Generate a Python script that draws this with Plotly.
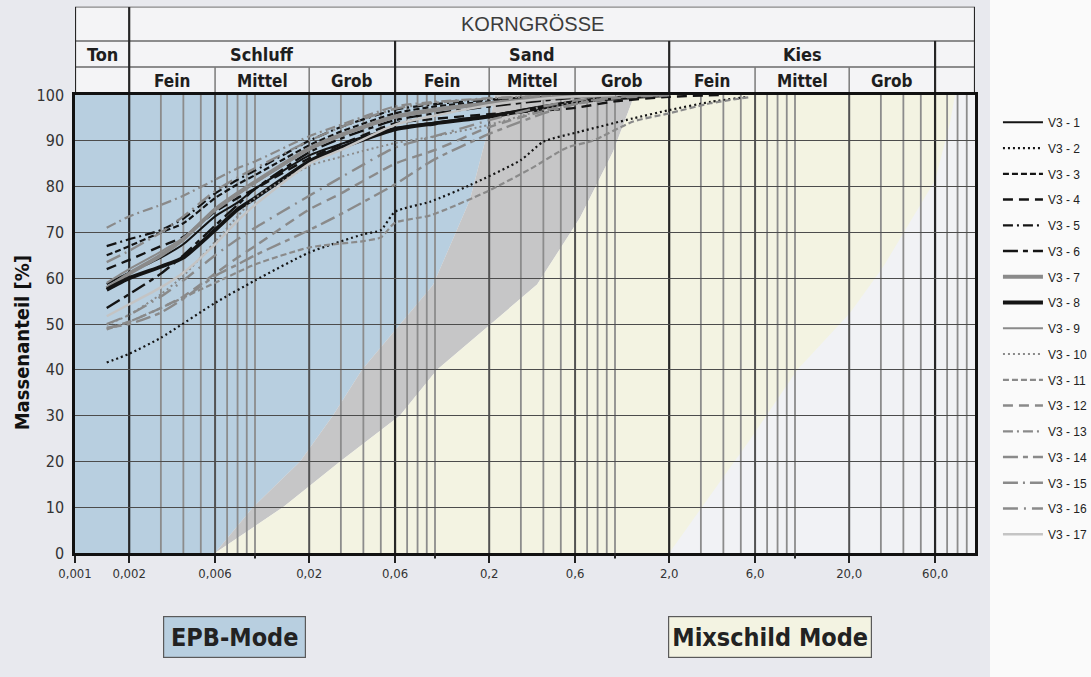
import numpy as np
import plotly.graph_objects as go

# ---------------------------------------------------------------------------
# Grain size distribution (Sieblinien) of samples V3-1 ... V3-17
# x: grain diameter [mm], y: passing mass fraction [%]
# ---------------------------------------------------------------------------
GRAIN_MM = [0.0015, 0.002, 0.003, 0.004, 0.006, 0.008, 0.01, 0.02, 0.03,
            0.06, 0.1, 0.2, 0.4, 0.6, 1.0, 2.0]

V3_1 = [58.7, 61.2, 64.5, 67.4, 73.5, 76.5, 79.5, 86.8, 89.3, 92.8, 94.0, 95.5, 97.6, 98.6, 99.4, 100.0]
V3_2_MM = [0.0015, 0.002, 0.003, 0.006, 0.01, 0.02, 0.04, 0.05, 0.06, 0.094, 0.156, 0.3, 0.4, 0.64, 1.26, 2.0, 3.4, 5.5]
V3_2 = [41.6, 43.5, 47.0, 54.6, 59.5, 65.6, 69.6, 70.5, 74.5, 76.7, 80.3, 85.8, 89.8, 92.0, 94.9, 96.7, 98.5, 99.6]
V3_3 = [65.0, 67.0, 70.0, 72.0, 77.5, 80.5, 82.5, 89.0, 92.0, 96.0, 97.5, 98.6, 99.4, 99.7, 100.0]
V3_4_MM = GRAIN_MM + [4.0]
V3_4 = [62.0, 64.0, 67.0, 69.0, 74.5, 77.5, 79.5, 86.2, 89.2, 93.8, 94.8, 95.8, 96.6, 97.2, 98.6, 99.6, 100.0]
V3_5 = [67.0, 68.5, 70.5, 73.0, 78.5, 81.5, 83.5, 90.0, 93.0, 96.8, 98.0, 99.0, 99.6, 100.0]
V3_6 = [53.5, 56.5, 61.0, 65.0, 71.5, 76.0, 79.5, 87.5, 90.5, 94.5, 96.0, 97.5, 98.8, 99.4, 100.0]
V3_7 = [57.8, 61.0, 65.0, 68.5, 75.0, 78.5, 81.0, 88.3, 91.3, 95.3, 96.8, 98.2, 99.3, 99.7, 100.0]
V3_8 = [57.5, 60.0, 62.5, 64.5, 70.5, 75.0, 77.5, 85.5, 88.5, 92.5, 93.8, 95.3, 97.3, 98.5, 99.3, 100.0]
V3_9 = [59.0, 62.0, 65.8, 68.8, 74.8, 78.2, 80.8, 88.0, 91.0, 95.0, 96.5, 98.0, 99.2, 99.6, 100.0]
V3_10 = [49.8, 52.0, 56.5, 60.5, 68.0, 73.5, 77.5, 84.5, 86.5, 89.5, 91.0, 93.5, 96.8, 98.4, 99.4, 100.0]
V3_11_MM = [0.0015, 0.002, 0.003, 0.006, 0.01, 0.02, 0.04, 0.05, 0.06, 0.094, 0.194, 0.34, 0.54, 0.75, 1.26, 2.0, 3.4, 5.5]
V3_11 = [48.8, 50.5, 53.5, 59.0, 63.0, 66.7, 68.1, 68.9, 72.1, 73.7, 78.9, 83.9, 88.5, 90.0, 94.2, 96.0, 98.2, 99.5]
V3_12 = [49.0, 50.5, 53.5, 56.0, 61.0, 64.5, 67.0, 75.0, 78.5, 85.0, 88.0, 93.0, 96.5, 98.0, 99.3, 100.0]
V3_13 = [71.0, 73.5, 76.0, 78.0, 81.5, 84.0, 85.5, 91.0, 93.5, 97.5, 98.5, 99.3, 99.8, 100.0]
V3_14 = [49.2, 50.0, 52.5, 55.5, 60.5, 63.0, 65.0, 70.5, 74.0, 80.5, 86.0, 91.5, 96.0, 98.0, 99.5, 100.0]
V3_15 = [63.5, 66.0, 70.0, 73.5, 79.0, 82.0, 84.0, 90.0, 93.0, 97.0, 98.3, 99.2, 99.8, 100.0]
V3_16 = [50.0, 52.0, 56.0, 59.5, 65.0, 68.5, 71.0, 78.0, 82.0, 88.5, 91.0, 94.5, 97.5, 98.8, 99.7, 100.0]
V3_17 = [51.7, 54.3, 58.0, 61.2, 67.4, 72.5, 76.0, 85.0, 88.0, 93.5, 95.5, 97.8, 99.2, 99.7, 100.0]

SERIES_NAMES = [f"V3 - {i}" for i in range(1, 18)]

# Application ranges of the TBM modes (boundary lines, [mm] / [%])
EPB_EDGE_MM = [0.006, 0.00975, 0.0178, 0.0271, 0.0393, 0.0975, 0.156, 0.202, 0.215]
EPB_EDGE_PCT = [0, 10, 20, 30, 40, 58.5, 77, 94, 100]
TRANS_EDGE_MM = [0.006, 0.0143, 0.0297, 0.0639, 0.1026, 0.369, 0.639, 0.975, 1.243, 1.29]
TRANS_EDGE_PCT = [0, 10, 20, 30, 40, 58.6, 73.2, 87.6, 98.5, 100]
MIX_EDGE_MM = [2.0, 5.62, 10.3, 20.2, 30.8, 60.0, 72.6, 77.5]
MIX_EDGE_PCT = [0, 24.7, 40, 52.4, 62.4, 81.4, 93.9, 100]

# Axis labelling and soil classes (DIN 4022)
TICK_MM = [0.001, 0.002, 0.006, 0.02, 0.06, 0.2, 0.6, 2.0, 6.0, 20.0, 60.0]
TICK_TEXT = ["0,001", "0,002", "0,006", "0,02", "0,06", "0,2", "0,6", "2,0", "6,0", "20,0", "60,0"]
DECADE_MM = [0.01, 0.1, 1.0, 10.0]
CLASS_NAMES = ["Ton", "Schluff", "Sand", "Kies"]
CLASS_EDGES = [0.001, 0.002, 0.06, 2.0, 60.0]
SUBCLASS_NAMES = ["Fein", "Mittel", "Grob"]
SUBCLASS_EDGES = [0.002, 0.006, 0.02, 0.06, 0.2, 0.6, 2.0, 6.0, 20.0, 60.0]

X_MIN, X_MAX = 0.001, 100.0

# ---------------------------------------------------------------------------
NARROW = "Liberation Sans Narrow, Arial Narrow, DejaVu Sans Condensed, sans-serif"
SANS = "Liberation Sans, Arial, Helvetica, sans-serif"
BLUE = "#b8cfe0"
GREY_BAND = "#c6c6c7"
CREAM = "#f3f3e2"
PLOT_BG = "#f1f2f5"

BLACK = "#141414"
GREY = "#8a8a8a"
LIGHT = "#c4c4c4"

styles = [
    (BLACK, 2.0, "solid"),
    (BLACK, 2.2, "2px,3px"),
    (BLACK, 2.2, "6px,3px"),
    (BLACK, 2.4, "10px,6px"),
    (BLACK, 2.2, "10px,4px,2px,4px"),
    (BLACK, 2.4, "15px,5px,5px,5px"),
    (GREY, 4.0, "solid"),
    (BLACK, 4.0, "solid"),
    (GREY, 2.0, "solid"),
    (GREY, 2.0, "2px,3px"),
    (GREY, 2.2, "6px,3px"),
    (GREY, 2.4, "10px,6px"),
    (GREY, 2.2, "10px,4px,2px,4px"),
    (GREY, 2.4, "15px,5px,5px,5px"),
    (GREY, 2.4, "15px,5px,2px,5px"),
    (GREY, 2.4, "15px,6px,2px,6px"),
    (LIGHT, 2.4, "solid"),
]

series_x = [GRAIN_MM, V3_2_MM, GRAIN_MM, V3_4_MM, GRAIN_MM, GRAIN_MM, GRAIN_MM, GRAIN_MM,
            GRAIN_MM, GRAIN_MM, V3_11_MM, GRAIN_MM, GRAIN_MM, GRAIN_MM, GRAIN_MM, GRAIN_MM, GRAIN_MM]
series_y = [V3_1, V3_2, V3_3, V3_4, V3_5, V3_6, V3_7, V3_8, V3_9, V3_10,
            V3_11, V3_12, V3_13, V3_14, V3_15, V3_16, V3_17]

fig = go.Figure()

for name, xs, ys, (col, w, dash) in zip(SERIES_NAMES, series_x, series_y, styles):
    fig.add_trace(go.Scatter(
        x=xs[:len(ys)], y=ys, name=name, mode="lines",
        line=dict(color=col, width=w, dash=dash, shape="spline", smoothing=0.6),
        legendgroup=name, hoverinfo="skip",
    ))


def poly_path(pts):
    return "M " + " L ".join(f"{x},{y}" for x, y in pts) + " Z"


epb = list(zip(EPB_EDGE_MM, EPB_EDGE_PCT))
trans = list(zip(TRANS_EDGE_MM, TRANS_EDGE_PCT))
mix = list(zip(MIX_EDGE_MM, MIX_EDGE_PCT))

shapes = []
# light panel behind the legend
shapes.append(dict(type="rect", xref="paper", yref="paper", layer="below",
                   x0=1.0167, x1=1.14, y0=-0.3, y1=1.25,
                   fillcolor="#fafafa", line=dict(width=0)))
# mode areas
shapes.append(dict(type="path", xref="x", yref="y", layer="below", line=dict(width=0),
                   fillcolor=BLUE,
                   path=poly_path([(X_MIN, 0)] + epb + [(X_MIN, 100)])))
shapes.append(dict(type="path", xref="x", yref="y", layer="below", line=dict(width=0),
                   fillcolor=GREY_BAND,
                   path=poly_path(trans + epb[::-1])))
shapes.append(dict(type="path", xref="x", yref="y", layer="below", line=dict(width=0),
                   fillcolor=CREAM,
                   path=poly_path([trans[0]] + mix + trans[::-1])))

# vertical grid of the log paper
major = set(round(v, 6) for v in CLASS_EDGES[1:])
sub = set(round(v, 6) for v in SUBCLASS_EDGES) - major
for n in range(-3, 2):
    for k in range(1, 10):
        v = k * 10.0 ** n
        r = round(v, 6)
        if r <= X_MIN or r >= X_MAX:
            continue
        if r in major:
            col, w = "#262626", 2.2
        elif r in sub:
            col, w = "#525252", 2.0
        else:
            col, w = "#8c8c8c", 1.8
        shapes.append(dict(type="line", xref="x", yref="y", layer="below",
                           x0=v, x1=v, y0=0, y1=100, line=dict(color=col, width=w)))

# header table (Korngrösse)
Y_TOP, Y_R1, Y_R2, Y_R3 = 1.192, 1.118, 1.061, 1.0
shapes.append(dict(type="rect", xref="x", yref="paper", layer="below",
                   x0=X_MIN, x1=X_MAX, y0=Y_R3, y1=Y_TOP,
                   fillcolor="#f4f4f6", line=dict(width=0)))
for yy, col, w in [(Y_TOP, "#8a8a8a", 1.2), (Y_R1, "#6a6a6a", 1.5), (Y_R2, "#6a6a6a", 1.5)]:
    shapes.append(dict(type="line", xref="x", yref="paper", layer="below",
                       x0=X_MIN, x1=X_MAX, y0=yy, y1=yy, line=dict(color=col, width=w)))
for v in [X_MIN, 0.002, X_MAX]:
    shapes.append(dict(type="line", xref="x", yref="paper", layer="below",
                       x0=v, x1=v, y0=Y_R3, y1=Y_TOP, line=dict(color="#262626", width=2.2)))
for v in [0.06, 2.0, 60.0]:
    shapes.append(dict(type="line", xref="x", yref="paper", layer="below",
                       x0=v, x1=v, y0=Y_R3, y1=Y_R1, line=dict(color="#262626", width=2.2)))
for v in SUBCLASS_EDGES:
    if round(v, 6) in sub:
        shapes.append(dict(type="line", xref="x", yref="paper", layer="below",
                           x0=v, x1=v, y0=Y_R3, y1=Y_R2, line=dict(color="#7a7a7a", width=1.5)))

# decade tick marks under the axis
for v in DECADE_MM:
    shapes.append(dict(type="line", xref="x", yref="paper", layer="above",
                       x0=v, x1=v, y0=0, y1=-0.012, line=dict(color="#202020", width=2)))

annotations = []


def lg(v):
    return float(np.log10(v))


def label(x, y, text, font, xref="x", **kw):
    d = dict(x=x, y=y, xref=xref, yref="paper", text=text, showarrow=False,
             xanchor="center", yanchor="middle", font=font)
    d.update(kw)
    annotations.append(d)


label((lg(0.002) + lg(60.0)) / 2, (Y_TOP + Y_R1) / 2, "KORNGRÖSSE",
      dict(family=SANS, size=20, color="#3c3c3c"))
for name, a, b in zip(CLASS_NAMES, CLASS_EDGES[:-1], CLASS_EDGES[1:]):
    label((lg(a) + lg(b)) / 2, (Y_R1 + Y_R2) / 2, f"<b>{name}</b>",
          dict(family=NARROW, size=18, color="#1e1e1e"))
for j, (a, b) in enumerate(zip(SUBCLASS_EDGES[:-1], SUBCLASS_EDGES[1:])):
    label((lg(a) + lg(b)) / 2, (Y_R2 + Y_R3) / 2, f"<b>{SUBCLASS_NAMES[j % 3]}</b>",
          dict(family=NARROW, size=17, color="#1e1e1e"))

label(-0.0589, 0.46, "<b>Massenanteil [%]</b>",
      dict(family=NARROW, size=20, color="#111111"), xref="paper", textangle=-90)

label(0.1772, -0.1834, "<b>EPB-Mode</b>",
      dict(family=NARROW, size=25, color="#222222"), xref="paper",
      width=141, height=40, bgcolor=BLUE, bordercolor="#5a5a5a", borderwidth=1.2, borderpad=0)
label(0.7722, -0.1834, "<b>Mixschild Mode</b>",
      dict(family=NARROW, size=25, color="#222222"), xref="paper",
      width=202, height=40, bgcolor=CREAM, bordercolor="#5a5a5a", borderwidth=1.2, borderpad=0)

fig.update_layout(
    width=1091, height=677,
    margin=dict(l=75, r=116, t=95, b=124, autoexpand=False),
    paper_bgcolor="#e8e9ee",
    plot_bgcolor=PLOT_BG,
    shapes=shapes,
    annotations=annotations,
    showlegend=True,
    legend=dict(x=1.0255, y=0.972, xanchor="left", yanchor="top",
                bgcolor="rgba(0,0,0,0)", borderwidth=0,
                font=dict(family=SANS, size=12, color="#222222"),
                tracegroupgap=6.75, itemwidth=40, traceorder="grouped"),
    xaxis=dict(
        type="log", range=[lg(X_MIN), lg(X_MAX)],
        showgrid=False, zeroline=False,
        showline=True, linecolor="#111111", linewidth=2.5, mirror=True,
        tickmode="array", tickvals=TICK_MM, ticktext=TICK_TEXT,
        ticks="outside", ticklen=7, tickwidth=2, tickcolor="#202020",
        tickfont=dict(family=NARROW, size=13, color="#333333"),
    ),
    yaxis=dict(
        range=[0, 100], dtick=10, tick0=0,
        showgrid=True, gridcolor="#4c4c4c", gridwidth=1.3,
        zeroline=False,
        showline=True, linecolor="#111111", linewidth=2.5, mirror=True,
        ticks="", ticklabelstandoff=5,
        tickfont=dict(family=NARROW, size=16, color="#333333"),
    ),
)

fig.write_html("out.html")
